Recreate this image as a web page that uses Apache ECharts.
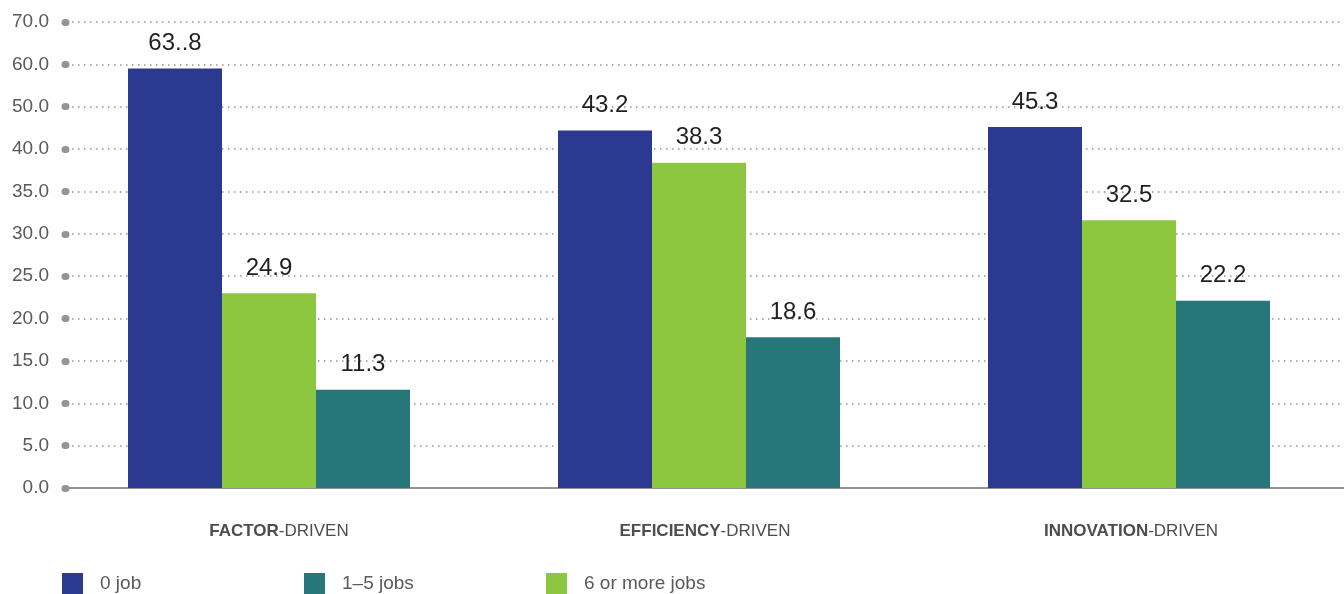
<!DOCTYPE html>
<html>
<head>
<meta charset="utf-8">
<script src="https://cdn.jsdelivr.net/npm/echarts@6/dist/echarts.min.js"></script>
<style>
  html, body { margin: 0; padding: 0; background: #ffffff; }
  #chart { width: 1344px; height: 594px; }
</style>
</head>
<body>
<div id="chart"></div>
<script>
// Categories (bold part before the hyphen)
const categories = ['FACTOR-DRIVEN', 'EFFICIENCY-DRIVEN', 'INNOVATION-DRIVEN'];
// Y axis tick labels as printed (ticks are evenly spaced)
const yTickLabels = ['0.0', '5.0', '10.0', '15.0', '20.0', '25.0', '30.0', '35.0', '40.0', '50.0', '60.0', '70.0'];
// Bar heights as drawn, in axis units (5 per tick)
const zeroJobHeights = [49.5, 42.2, 42.6];
const sixPlusHeights = [23.0, 38.4, 31.6];
const oneToFiveHeights = [11.6, 17.8, 22.1];
// Value labels as printed
const zeroJobLabels = ['63..8', '43.2', '45.3'];
const sixPlusLabels = ['24.9', '38.3', '32.5'];
const oneToFiveLabels = ['11.3', '18.6', '22.2'];
// Series names
const seriesNames = ['0 job', '1\u20135 jobs', '6 or more jobs'];

const COLORS = { blue: '#2b3990', teal: '#26767a', green: '#8dc63f' };
const FONT = '"Liberation Sans", Arial, sans-serif';

const chart = echarts.init(document.getElementById('chart'), null, { renderer: 'canvas' });

function labelCfg(texts) {
  return {
    show: true,
    position: 'top',
    distance: 13,
    fontFamily: FONT,
    fontSize: 24,
    color: '#231f20',
    formatter: p => texts[p.dataIndex]
  };
}

function legendAt(left, name) {
  return {
    left: left,
    top: 573,
    padding: 0,
    itemWidth: 21,
    itemHeight: 21,
    icon: 'rect',
    data: [name],
    selectedMode: false,
    textStyle: { fontFamily: FONT, fontSize: 19, color: '#58595b', padding: [0, 0, 0, 12] }
  };
}

chart.setOption({
  animation: false,
  backgroundColor: '#ffffff',
  grid: [
    { left: 66, right: 0, top: 22, bottom: 106, containLabel: false },
    { left: 54, width: 1294, top: 22, bottom: 106, containLabel: false }
  ],
  legend: [
    legendAt(62, seriesNames[0]),
    legendAt(304, seriesNames[1]),
    legendAt(546, seriesNames[2])
  ],
  xAxis: [
    {
      gridIndex: 0,
      type: 'category',
      data: categories,
      axisLine: { show: true, lineStyle: { color: '#939598', width: 2 } },
      axisTick: { show: false },
      axisLabel: {
        margin: 35,
        fontFamily: FONT,
        fontSize: 17,
        color: '#4d4d4f',
        formatter: v => {
          const i = v.indexOf('-');
          return '{b|' + v.slice(0, i) + '}{r|' + v.slice(i) + '}';
        },
        rich: {
          b: { fontFamily: FONT, fontWeight: 'bold', fontSize: 17, color: '#4d4d4f' },
          r: { fontFamily: FONT, fontSize: 17, color: '#4d4d4f' }
        }
      }
    },
    {
      gridIndex: 1,
      type: 'category',
      data: categories,
      axisLine: { show: false },
      axisTick: { show: false },
      axisLabel: { show: false }
    }
  ],
  yAxis: [
    {
      gridIndex: 0,
      type: 'value',
      min: 0,
      max: 55,
      interval: 5,
      axisLine: { show: false },
      axisTick: { show: true, length: 1, lineStyle: { color: '#939598', width: 7, cap: 'round' } },
      axisLabel: {
        margin: 17,
        fontFamily: FONT,
        fontSize: 19,
        color: '#58595b',
        formatter: v => yTickLabels[Math.round(v / 5)]
      },
      splitLine: { show: true, lineStyle: { color: '#939598', width: 1.5, type: [1.5, 4.5] } }
    },
    {
      gridIndex: 1,
      type: 'value',
      min: 0,
      max: 55,
      interval: 5,
      show: false,
      splitLine: { show: false }
    }
  ],
  series: [
    {
      name: seriesNames[0], type: 'bar', xAxisIndex: 1, yAxisIndex: 1, data: zeroJobHeights, barWidth: 94, barGap: '0%',
      itemStyle: { color: COLORS.blue }, label: labelCfg(zeroJobLabels)
    },
    {
      name: seriesNames[2], type: 'bar', xAxisIndex: 1, yAxisIndex: 1, data: sixPlusHeights, barWidth: 94, barGap: '0%',
      itemStyle: { color: COLORS.green }, label: labelCfg(sixPlusLabels)
    },
    {
      name: seriesNames[1], type: 'bar', xAxisIndex: 1, yAxisIndex: 1, data: oneToFiveHeights, barWidth: 94, barGap: '0%',
      itemStyle: { color: COLORS.teal }, label: labelCfg(oneToFiveLabels)
    }
  ]
});
</script>
</body>
</html>
